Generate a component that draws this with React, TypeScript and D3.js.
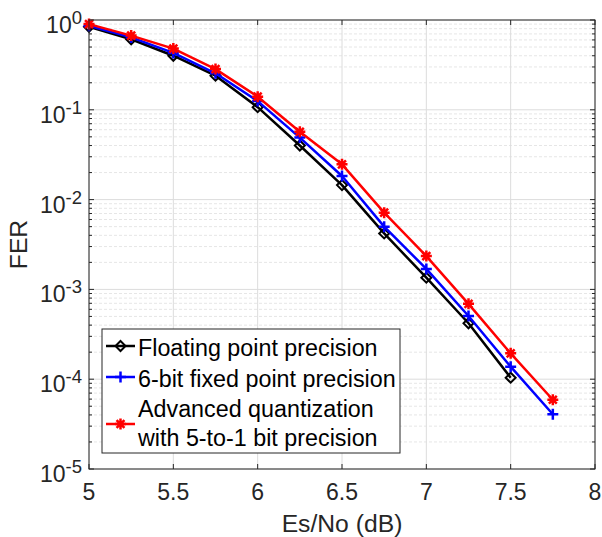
import React from "react";
import * as d3 from "d3";

const snr = [5, 5.25, 5.5, 5.75, 6, 6.25, 6.5, 6.75, 7, 7.25, 7.5, 7.75];
const floatingFER = [0.84, 0.61, 0.40, 0.24, 0.107, 0.040, 0.0145, 0.0042, 0.00135, 0.00042, 0.000104];
const fixed6FER = [0.86, 0.64, 0.43, 0.255, 0.125, 0.049, 0.0183, 0.005, 0.00169, 0.000506, 0.000138, 0.0000407];
const advancedFER = [0.9, 0.67, 0.48, 0.284, 0.14, 0.057, 0.0247, 0.00715, 0.00235, 0.00069, 0.000194, 0.000059];
const xTicks = [5, 5.5, 6, 6.5, 7, 7.5, 8];
const xTickLabels = ["5", "5.5", "6", "6.5", "7", "7.5", "8"];
const yExponents = [0, -1, -2, -3, -4, -5];
const legendLabels = [["Floating point precision"], ["6-bit fixed point precision"], ["Advanced quantization", "with 5-to-1 bit precision"]];

const W = 602, H = 537;
const L = 89, R = 595, T = 20, B = 469;
const FONT = "'Liberation Sans', Arial, Helvetica, sans-serif";
const TXT = "#262626";
const AX = "#262626";

export default function App() {
  const x = d3.scaleLinear().domain([5, 8]).range([L, R]);
  const y = d3.scaleLog().domain([1e-5, 1]).range([B, T]);
  const line = d3.line<[number, number]>().x(d => x(d[0])).y(d => y(d[1]));

  const minor: number[] = [];
  for (let e = -5; e < 0; e++) for (let m = 2; m <= 9; m++) minor.push(m * Math.pow(10, e));

  const series = [
    { data: floatingFER, color: "#000000", marker: "diamond" },
    { data: fixed6FER, color: "#0000ff", marker: "plus" },
    { data: advancedFER, color: "#ff0000", marker: "star" },
  ];

  const marker = (type: string, cx: number, cy: number, color: string, key: string) => {
    if (type === "diamond") {
      const s = 5;
      return <path key={key} d={`M${cx},${cy - s}L${cx + s},${cy}L${cx},${cy + s}L${cx - s},${cy}Z`} fill="none" stroke={color} strokeWidth={2} />;
    }
    if (type === "plus") {
      const s = 5.5;
      return <path key={key} d={`M${cx - s},${cy}H${cx + s}M${cx},${cy - s}V${cy + s}`} stroke={color} strokeWidth={2.5} fill="none" />;
    }
    const s = 5.5, d = s * 0.72;
    return <path key={key} d={`M${cx - s},${cy}H${cx + s}M${cx},${cy - s}V${cy + s}M${cx - d},${cy - d}L${cx + d},${cy + d}M${cx - d},${cy + d}L${cx + d},${cy - d}`} stroke={color} strokeWidth={2.5} fill="none" />;
  };

  const legRows = [346, 377, 424];
  const legTextBase = [[356], [387], [417, 446]];

  return (
    <svg width={W} height={H} style={{ position: "absolute", left: 0, top: 0, background: "#fff" }} fontFamily={FONT}>
      <rect x={0} y={0} width={W} height={H} fill="#fff" />
      {minor.map((v, i) => (
        <line key={"mg" + i} x1={L} x2={R} y1={y(v)} y2={y(v)} stroke="#e6e6e6" strokeWidth={1} strokeDasharray="3,2" />
      ))}
      {yExponents.map(e => (
        <line key={"yg" + e} x1={L} x2={R} y1={y(Math.pow(10, e))} y2={y(Math.pow(10, e))} stroke="#dcdcdc" strokeWidth={1} />
      ))}
      {xTicks.map(t => (
        <line key={"xg" + t} x1={x(t)} x2={x(t)} y1={T} y2={B} stroke="#dcdcdc" strokeWidth={1} />
      ))}
      {xTicks.map(t => (
        <g key={"xt" + t}>
          <line x1={x(t)} x2={x(t)} y1={B} y2={B - 5} stroke={AX} />
          <line x1={x(t)} x2={x(t)} y1={T} y2={T + 5} stroke={AX} />
        </g>
      ))}
      {yExponents.map(e => (
        <g key={"yt" + e}>
          <line x1={L} x2={L + 5} y1={y(Math.pow(10, e))} y2={y(Math.pow(10, e))} stroke={AX} />
          <line x1={R} x2={R - 5} y1={y(Math.pow(10, e))} y2={y(Math.pow(10, e))} stroke={AX} />
        </g>
      ))}
      {minor.map((v, i) => (
        <g key={"mt" + i}>
          <line x1={L} x2={L + 3} y1={y(v)} y2={y(v)} stroke={AX} />
          <line x1={R} x2={R - 3} y1={y(v)} y2={y(v)} stroke={AX} />
        </g>
      ))}
      {series.map((s, si) => {
        const pts: [number, number][] = s.data.map((v, i) => [snr[i], v]);
        return (
          <g key={"s" + si}>
            <path d={line(pts) || ""} fill="none" stroke={s.color} strokeWidth={2.5} strokeLinejoin="round" />
            {pts.map((p, i) => marker(s.marker, x(p[0]), y(p[1]), s.color, "m" + si + "_" + i))}
          </g>
        );
      })}
      <rect x={L} y={T} width={R - L} height={B - T} fill="none" stroke={AX} strokeWidth={1} />
      {xTicks.map((t, i) => (
        <text key={"xl" + t} x={x(t)} y={500} textAnchor="middle" fontSize={23} fill={TXT}>{xTickLabels[i]}</text>
      ))}
      {yExponents.map(e => {
        const ty = y(Math.pow(10, e));
        return (
          <text key={"yl" + e} x={82} y={ty + 13} textAnchor="end" fontSize={23} fill={TXT}>
            10<tspan fontSize={18.5} dy={-9}>{String(e)}</tspan>
          </text>
        );
      })}
      <text x={(L + R) / 2} y={532} textAnchor="middle" fontSize={24.7} fill={TXT}>Es/No (dB)</text>
      <text transform={`translate(27,${(T + B) / 2}) rotate(-90)`} textAnchor="middle" fontSize={24.7} fill={TXT}>FER</text>
      <rect x={102} y={329} width={298} height={124} fill="#fff" stroke={AX} strokeWidth={1} />
      {series.map((s, i) => (
        <g key={"lg" + i}>
          <line x1={106} x2={135} y1={legRows[i]} y2={legRows[i]} stroke={s.color} strokeWidth={2.5} />
          {marker(s.marker, 120.5, legRows[i], s.color, "lm" + i)}
          {legendLabels[i].map((lbl, j) => (
            <text key={j} x={138} y={legTextBase[i][j]} fontSize={23.3} fill="#000">{lbl}</text>
          ))}
        </g>
      ))}
    </svg>
  );
}
